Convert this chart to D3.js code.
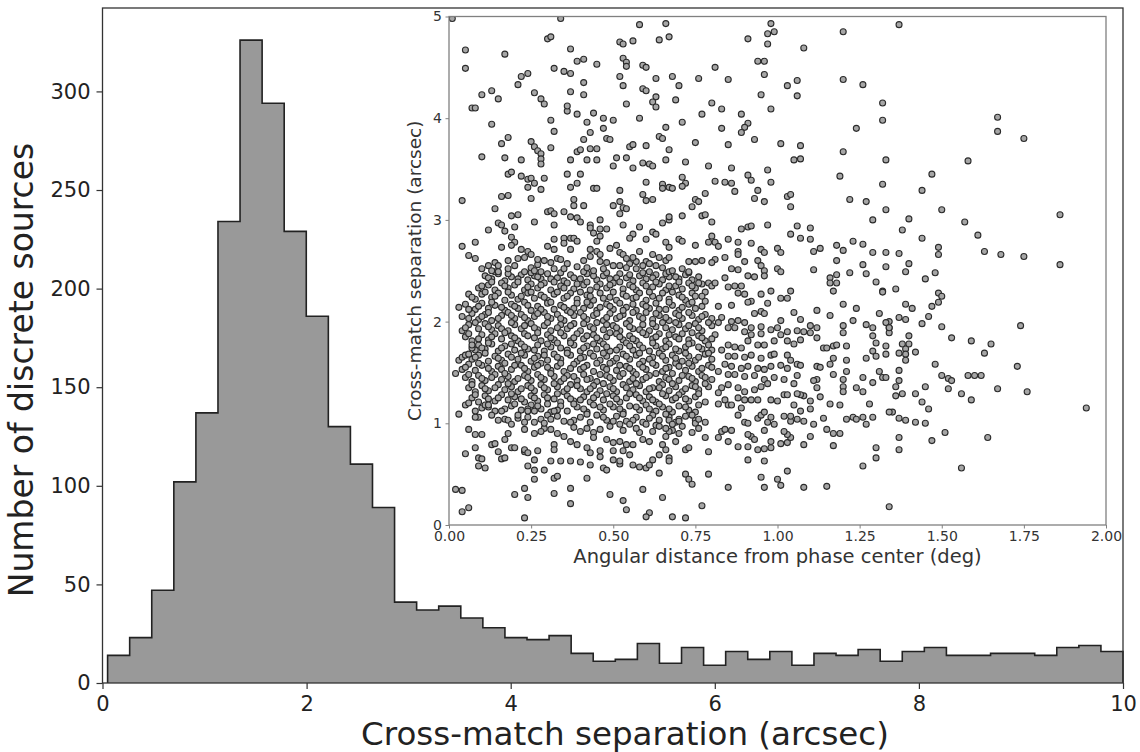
<!DOCTYPE html>
<html>
<head>
<meta charset="utf-8">
<script src="https://cdn.jsdelivr.net/npm/d3@7"></script>
<style>
  body { margin: 0; background: #fff; }
  svg { display: block; font-family: "DejaVu Sans", sans-serif; }
</style>
</head>
<body>
<svg id="chart" width="1140" height="752"></svg>
<script>
// histogram of cross-match separations (arcsec)
const binLo = 0.05;
const binHi = 10;
const binCounts = [14, 23, 47, 102, 137, 234, 326, 294, 229, 186, 130, 111, 89, 41, 37, 39,
  33, 28, 23, 22, 24, 15, 11, 12, 20, 10, 18, 9, 16, 12, 16, 9, 15, 14, 17, 11, 16, 18, 14,
  14, 15, 15, 14, 18, 19, 16];
const mainXTicks = [0, 2, 4, 6, 8, 10];
const mainYTicks = [0, 50, 100, 150, 200, 250, 300];

// inset: [angular distance (deg), separation (arcsec)]
const insetXTicks = [0, 0.25, 0.5, 0.75, 1, 1.25, 1.5, 1.75, 2];
const insetYTicks = [0, 1, 2, 3, 4, 5];

const outerPoints = [
  [0.01,4.98],[0.34,4.98],[0.58,4.92],[0.66,4.93],[0.30,4.78],[0.31,4.80],[0.05,4.67],[0.17,4.63],[0.37,4.68],[0.52,4.75],[0.53,4.73],[0.56,4.76],[0.64,4.77],[0.67,4.80],
  [0.05,4.49],[0.32,4.49],[0.35,4.46],[0.37,4.44],[0.39,4.56],[0.41,4.58],[0.45,4.53],[0.53,4.59],[0.54,4.55],[0.54,4.51],[0.59,4.52],[0.60,4.50],
  [0.22,4.41],[0.24,4.44],[0.21,4.33],[0.41,4.35],[0.52,4.41],[0.53,4.32],[0.63,4.39],
  [0.10,4.23],[0.13,4.27],[0.15,4.19],[0.26,4.25],[0.28,4.19],[0.29,4.14],[0.37,4.26],[0.41,4.23],[0.54,4.14],[0.59,4.29],[0.60,4.27],[0.63,4.21],[0.62,4.16],[0.63,4.11],
  [0.07,4.10],[0.08,4.10],[0.36,4.07],[0.36,4.12],[0.39,4.04],[0.44,4.05],[0.47,4.00],[0.50,3.98],[0.58,4.00],[0.66,3.91],
  [0.13,3.94],[0.31,3.98],[0.32,3.87],[0.42,3.96],[0.43,3.86],[0.47,3.90],[0.48,3.80],[0.49,3.79],[0.41,3.79],
  [0.18,3.81],[0.16,3.75],[0.25,3.77],[0.26,3.72],[0.27,3.68],[0.28,3.65],[0.28,3.60],[0.28,3.55],[0.31,3.71],[0.39,3.67],[0.40,3.69],[0.43,3.70],[0.45,3.70],[0.55,3.72],[0.56,3.74],[0.60,3.73],[0.64,3.82],[0.65,3.80],[0.67,3.69],
  [0.10,3.62],[0.17,3.61],[0.22,3.59],[0.37,3.59],[0.42,3.59],[0.45,3.59],[0.51,3.61],[0.54,3.61],[0.50,3.53],[0.56,3.51],[0.59,3.56],[0.61,3.55],[0.62,3.53],[0.66,3.59],
  [0.18,3.45],[0.19,3.47],[0.22,3.43],[0.24,3.40],[0.25,3.41],[0.26,3.36],[0.29,3.41],[0.24,3.32],[0.28,3.30],[0.36,3.45],[0.40,3.45],[0.37,3.32],[0.39,3.36],[0.44,3.31],[0.45,3.31],[0.52,3.29],[0.60,3.37],[0.65,3.35],[0.65,3.31],[0.67,3.32],
  [0.04,3.19],[0.16,3.23],[0.18,3.24],[0.25,3.21],[0.38,3.20],[0.38,3.14],[0.41,3.14],[0.50,3.14],[0.52,3.18],[0.53,3.12],[0.54,3.11],[0.59,3.25],[0.60,3.19],[0.62,3.20],
  [0.14,3.11],[0.30,3.08],[0.31,3.09],[0.32,3.06],[0.35,3.08],[0.37,3.03],[0.39,3.02],[0.40,2.98],[0.19,3.04],[0.21,3.05],[0.26,2.98],[0.32,2.95],[0.43,2.95],[0.46,3.00],[0.52,3.06],[0.53,2.95],[0.58,2.93],[0.62,2.88],[0.65,2.97],[0.67,3.00],
  [0.12,2.90],[0.15,2.97],[0.16,2.95],[0.17,2.89],[0.20,2.93],[0.19,2.83],[0.20,2.78],[0.19,2.75],[0.32,2.81],[0.35,2.82],[0.37,2.82],[0.38,2.82],[0.39,2.79],[0.35,2.77],[0.37,2.71],[0.43,2.92],[0.44,2.87],[0.46,2.91],[0.48,2.91],[0.46,2.84],[0.45,2.79],[0.49,2.72],[0.51,2.75],[0.52,2.68],[0.56,2.86],[0.55,2.82],[0.60,2.81],[0.63,2.86],[0.66,2.78],[0.67,2.73],
  [0.04,2.74],[0.08,2.78],[0.16,2.73],[0.06,2.65],[0.08,2.62],[0.22,2.71],[0.24,2.69],[0.25,2.66],[0.23,2.63],[0.21,2.62],[0.27,2.61],[0.29,2.60],[0.30,2.74],[0.32,2.71],[0.33,2.62],[0.34,2.61],[0.43,2.71],[0.45,2.69],[0.46,2.66],[0.43,2.64],[0.46,2.59],[0.53,2.66],[0.54,2.62],[0.56,2.63],[0.58,2.69],[0.60,2.59],[0.61,2.57],[0.62,2.66],[0.64,2.63],[0.67,2.63],
  [0.12,2.55],[0.15,2.55],[0.13,2.50],[0.15,2.49],[0.20,2.55],[0.23,2.49],[0.26,2.50],[0.28,2.49],[0.32,2.52],[0.35,2.52],[0.39,2.54],[0.44,2.50],[0.50,2.55],[0.52,2.55],[0.54,2.53],[0.57,2.52],[0.59,2.55],[0.61,2.49],[0.65,2.53],[0.67,2.49],
  [0.98,4.93],[0.97,4.83],[0.99,4.85],[0.97,4.73],[0.91,4.78],[1.20,4.85],[1.08,4.69],[0.94,4.56],[0.96,4.56],[0.81,4.50],[0.96,4.43],[0.68,4.41],[0.70,4.32],[0.76,4.39],[0.85,4.38],[1.03,4.32],[1.06,4.37],[1.06,4.22],[1.20,4.38],[1.26,4.33],[0.95,4.23],[0.69,4.18],[0.80,4.15],[0.83,4.09],[0.77,4.04],[0.89,4.04],[0.98,4.09],[1.32,4.15],[1.32,3.98],
  [0.71,3.96],[0.83,3.90],[0.91,3.95],[0.90,3.91],[0.89,3.86],[1.24,3.90],[0.93,3.79],[0.75,3.76],[0.85,3.74],[1.01,3.75],[1.07,3.73],[1.20,3.67],[1.05,3.59],[1.07,3.60],[1.33,3.59],
  [0.72,3.57],[0.79,3.53],[0.86,3.51],[0.97,3.49],[0.71,3.42],[0.72,3.36],[0.71,3.33],[0.81,3.38],[0.84,3.37],[0.86,3.36],[0.87,3.28],[0.91,3.44],[0.92,3.39],[0.98,3.37],[1.19,3.43],[1.32,3.35],[0.68,3.31],
  [0.78,3.26],[0.94,3.29],[0.93,3.21],[0.96,3.18],[1.03,3.23],[1.04,3.25],[1.04,3.13],[1.22,3.20],[1.27,3.18],[1.33,3.10],
  [0.67,3.03],[0.71,3.04],[0.74,3.13],[0.75,3.20],[0.76,3.18],[0.77,3.04],[0.78,3.05],[0.80,2.98],[1.29,3.00],[0.89,2.91],[0.91,2.93],[0.92,2.94],[0.97,2.95],[1.06,2.94],[1.04,2.86],[1.07,2.82],[1.10,2.81],[1.10,2.92],
  [0.70,2.81],[0.71,2.79],[0.75,2.75],[0.80,2.84],[0.79,2.78],[0.81,2.78],[0.82,2.74],[0.85,2.81],[0.88,2.78],[0.92,2.77],[0.88,2.69],[0.88,2.66],[0.84,2.63],[0.90,2.59],[0.95,2.71],[0.96,2.68],[1.00,2.72],[1.01,2.68],[1.11,2.69],[1.13,2.72],[1.18,2.75],[1.20,2.70],[1.23,2.79],[1.26,2.76],[1.29,2.68],[1.33,2.68],[1.18,2.60],[1.26,2.56],[1.33,2.54],
  [0.73,2.59],[0.75,2.59],[0.77,2.60],[0.81,2.61],[0.80,2.58],[0.94,2.60],[0.95,2.55],[0.96,2.50],[1.00,2.52],[1.01,2.49],[0.86,2.52],[0.88,2.51],[0.68,2.50],[0.71,2.52],[0.73,2.49],[1.11,2.51],[1.22,2.48],[1.27,2.47],
  [1.37,4.92],[1.67,4.01],[1.67,3.87],[1.75,3.80],[1.58,3.58],[1.47,3.45],[1.44,3.29],[1.50,3.10],[1.40,3.01],[1.86,3.05],[1.57,2.98],[1.38,2.90],[1.44,2.82],[1.61,2.85],[1.49,2.73],[1.49,2.66],[1.37,2.67],[1.63,2.69],[1.68,2.66],[1.75,2.64],[1.86,2.56],[1.40,2.57],[1.39,2.49],[1.48,2.48],
  [1.45,2.42],[1.36,2.32],[1.49,2.28],[1.50,2.25],[1.49,2.19],[1.39,2.17],[1.41,2.13],[1.47,2.15],[1.37,2.04],[1.39,2.02],[1.46,2.05],[1.44,1.98],[1.34,2.00],[1.34,1.94],[1.34,1.89],[1.50,1.95],[1.74,1.96],[1.40,1.86],[1.53,1.84],[1.59,1.81],[1.65,1.78],[1.63,1.69],[1.38,1.78],[1.40,1.78],[1.39,1.73],[1.37,1.69],[1.39,1.68],[1.42,1.70],[1.39,1.62],[1.48,1.58],[1.73,1.56],[1.37,1.52],[1.50,1.47],[1.52,1.44],[1.53,1.42],[1.58,1.47],[1.60,1.47],[1.62,1.47],[1.37,1.42],[1.36,1.36],[1.45,1.36],[1.52,1.34],[1.67,1.34],[1.76,1.31],[1.36,1.27],[1.38,1.29],[1.42,1.29],[1.56,1.29],[1.59,1.23],[1.44,1.21],[1.46,1.14],[1.94,1.15],[1.35,1.11],[1.37,1.05],[1.39,1.03],[1.42,1.01],[1.45,1.00],[1.51,0.91],[1.37,0.86],[1.47,0.83],[1.64,0.86],[1.37,0.74],[1.56,0.56],[1.34,0.18],
  [1.30,2.39],[1.32,2.30],[1.32,2.29],[1.16,2.43],[1.18,2.46],[1.16,2.38],[1.18,2.38],[1.17,2.30],[1.20,2.17],[1.24,2.13],[1.31,2.08],[1.12,2.11],[1.16,2.06],[1.23,2.01],[1.20,1.96],[1.20,1.89],[1.27,1.97],[1.29,1.94],[1.29,1.86],[1.33,1.99],[1.34,1.94],[1.21,1.76],[1.17,1.76],[1.18,1.77],[1.14,1.74],[1.15,1.74],[1.29,1.71],[1.30,1.79],[1.33,1.76],[1.33,1.68],[1.21,1.62],[1.27,1.64],[1.30,1.66],[1.17,1.64],[1.12,1.56],[1.13,1.55],[1.16,1.58],[1.17,1.48],[1.21,1.51],[1.31,1.51],[1.32,1.45],[1.33,1.45],[1.29,1.40],[1.26,1.45],[1.20,1.43],[1.20,1.36],[1.20,1.31],[1.24,1.35],[1.26,1.31],[1.12,1.43],[1.12,1.35],[1.11,1.42],[1.28,1.19],[1.34,1.11],[1.16,1.19],[1.19,1.18],[1.10,1.22],[1.13,1.26],[1.08,1.27],[1.07,1.28],[1.06,1.29],
  [1.07,1.12],[1.05,1.18],[1.02,1.28],[1.06,1.04],[1.08,1.02],[1.04,1.02],[1.04,1.07],[1.10,1.14],[1.14,1.05],[1.21,1.04],[1.23,1.06],[1.24,1.04],[1.26,1.06],[1.27,0.99],[1.29,1.06],[1.11,0.99],[1.15,0.94],[1.17,0.90],[1.19,0.90],[1.17,0.78],[1.10,0.87],[1.08,0.79],[1.03,0.81],[1.01,0.80],[1.04,0.86],[1.03,0.89],[1.02,0.92],[0.98,0.82],[0.98,0.76],[0.96,0.93],[0.97,1.01],[0.99,0.99],[0.98,1.06],[1.02,1.07],[0.92,0.87],[0.93,0.84],[0.91,0.89],[0.94,0.74],[0.96,0.75],[0.88,0.77],[0.91,0.77],[0.91,0.64],[0.96,0.63],[0.85,0.82],[0.83,0.92],[0.82,0.86],[0.84,0.94],[0.86,0.93],[0.78,0.86],[0.79,0.72],[1.03,0.53],[0.95,0.47],[1.00,0.45],[1.01,0.39],[0.96,0.37],[1.08,0.37],[1.15,0.38],[0.85,0.37],[0.79,0.50],[0.72,0.50],[0.73,0.45],[0.74,0.40],[0.77,0.19],[0.68,0.08],[0.72,0.07],[1.30,0.76],[1.30,0.66],[1.26,0.58],
  [0.84,2.43],[0.91,2.45],[0.93,2.44],[0.96,2.45],[0.79,2.38],[0.80,2.35],[0.81,2.38],[0.85,2.34],[0.87,2.35],[0.89,2.35],[0.88,2.28],[0.90,2.27],[0.95,2.27],[0.98,2.30],[1.04,2.30],[1.01,2.23],[1.03,2.23],[0.97,2.18],[0.92,2.20],[0.91,2.19],[0.86,2.16],[0.82,2.15],[0.78,2.20],[0.77,2.25],[0.76,2.38],
  [0.93,2.08],[0.95,2.10],[0.96,2.08],[1.05,2.09],[1.07,2.02],[1.01,2.01],[1.00,1.94],[0.98,1.92],[0.95,1.95],[0.92,1.94],[0.90,1.99],[0.88,2.01],[0.86,2.00],[0.83,2.04],[0.82,1.99],[0.85,1.94],[0.87,1.94],[0.90,1.90],[0.92,1.87],[0.95,1.88],[1.01,1.87],[1.03,1.90],[1.06,1.91],[1.08,1.90],[1.10,1.96],[1.12,1.94],[1.10,1.89],[1.12,1.84],[1.07,1.82],[1.05,1.78],[1.03,1.81],[0.99,1.81],[0.96,1.77],[0.94,1.77],[0.91,1.81],[0.89,1.74],[0.87,1.75],[0.85,1.77],[0.83,1.72],[0.85,1.66],[0.87,1.66],[0.90,1.65],[0.92,1.67],[0.95,1.64],[0.98,1.67],[0.99,1.68],[1.03,1.67],[1.04,1.62],[1.06,1.58],[1.07,1.57],[1.03,1.54],[1.01,1.57],[0.98,1.56],[0.96,1.53],[0.94,1.54],[0.91,1.56],[0.89,1.54],[0.86,1.56],[0.84,1.58],[0.82,1.51],[0.85,1.48],[0.87,1.48],[0.90,1.46],[0.93,1.47],[0.96,1.43],[0.99,1.45],[1.02,1.43],[1.05,1.39],[1.06,1.47],[0.97,1.39],[0.95,1.36],[0.93,1.33],[0.90,1.31],[0.88,1.35],[0.85,1.38],[0.83,1.35],[0.82,1.30],[0.84,1.23],[0.88,1.25],[0.90,1.23],[0.92,1.23],[0.94,1.23],[0.98,1.23],[1.00,1.22],[1.03,1.28],[0.89,1.15],[0.88,1.08],[0.90,1.01],[0.91,1.00],[0.94,1.05],[0.95,1.08],[0.96,1.11],[0.85,1.18],[0.82,1.19],[0.86,1.18],
  [0.67,1.03],[0.68,0.99],[0.70,1.02],[0.67,0.92],[0.70,0.90],[0.69,0.82],[0.72,0.74],[0.73,0.76],[0.67,0.66],[0.67,0.63],[0.75,1.00],[0.76,1.04],[0.76,0.95],[0.78,1.01],
  [0.02,1.49],[0.03,1.62],[0.04,1.65],[0.05,1.67],[0.06,1.68],[0.07,1.74],[0.07,1.77],[0.03,1.09],[0.06,0.94],[0.05,0.70],[0.08,0.76],[0.09,0.66],[0.10,0.65],[0.09,0.58],[0.11,0.56],[0.10,0.89],[0.13,0.79],[0.14,0.80],[0.15,0.72],[0.16,0.65],[0.17,0.66],[0.18,0.90],[0.17,0.84],[0.19,0.76],[0.20,0.76],[0.23,0.72],[0.23,0.74],[0.24,0.71],[0.24,0.58],[0.26,0.54],[0.26,0.45],[0.29,0.54],[0.26,0.64],[0.27,0.73],[0.31,0.63],[0.34,0.63],[0.37,0.63],[0.40,0.62],[0.43,0.59],[0.32,0.46],[0.33,0.48],[0.37,0.36],[0.37,0.21],[0.42,0.46],[0.47,0.56],[0.48,0.54],[0.52,0.60],[0.49,0.30],[0.53,0.24],[0.54,0.15],[0.59,0.35],[0.61,0.12],[0.60,0.08],[0.65,0.27],[0.64,0.51],[0.58,0.57],[0.60,0.56],[0.61,0.59],[0.02,0.35],[0.04,0.34],[0.04,0.13],[0.06,0.17],[0.20,0.30],[0.23,0.36],[0.24,0.27],[0.32,0.31],[0.23,0.07],
  [0.50,0.64],[0.52,0.63],[0.46,0.73],[0.50,0.73],[0.53,0.73],[0.55,0.69],[0.56,0.59],[0.46,0.67],[0.43,0.71],[0.42,0.76],[0.39,0.79],[0.37,0.82],[0.35,0.87],[0.33,0.90],[0.31,0.94],[0.29,0.95],[0.28,0.92],[0.26,0.90],[0.32,0.79],[0.32,0.74],[0.62,0.64],[0.64,0.69],[0.66,0.74],[0.65,0.79],[0.23,1.01],[0.23,0.94],[0.37,1.01],[0.40,0.92],[0.42,0.95],[0.44,0.86],[0.46,0.94],[0.48,0.84],[0.50,0.81],[0.52,0.82],[0.54,0.79],[0.56,0.79],[0.59,0.84],[0.61,0.82],[0.57,0.95],[0.55,0.99],[0.52,0.99],[0.60,0.99],[0.62,0.92],[0.64,0.97],[0.66,0.95],[0.66,0.87],[0.08,0.89],[0.09,1.06],[0.08,1.06],[0.11,1.18],[0.12,1.18],[0.05,1.18],[0.06,1.20],[0.16,1.12],[0.15,1.03],[0.17,1.04],[0.18,1.03],[0.19,0.99],[0.21,1.08],[0.24,1.12],[0.26,1.12],[0.28,1.04],[0.29,1.00],[0.31,1.04],[0.32,1.12]
];

// the crowded core of the inset, read band by band
const corePoints = [
  [0.11,2.45],[0.13,2.42],[0.15,2.47],[0.17,2.40],[0.19,2.44],[0.22,2.46],[0.24,2.41],[0.26,2.45],[0.28,2.42],[0.30,2.47],[0.33,2.43],[0.35,2.40],[0.37,2.46],[0.40,2.42],[0.42,2.47],[0.45,2.41],[0.47,2.45],[0.49,2.42],[0.52,2.47],[0.54,2.43],[0.56,2.40],[0.58,2.45],[0.60,2.42],[0.63,2.46],[0.65,2.41],[0.67,2.44],[0.70,2.42],[0.72,2.46],[0.74,2.41],
  [0.09,2.33],[0.12,2.36],[0.14,2.31],[0.16,2.38],[0.18,2.33],[0.20,2.36],[0.23,2.31],[0.25,2.37],[0.27,2.33],[0.29,2.38],[0.31,2.31],[0.34,2.35],[0.36,2.38],[0.38,2.32],[0.41,2.36],[0.43,2.31],[0.46,2.37],[0.48,2.33],[0.50,2.38],[0.53,2.32],[0.55,2.36],[0.57,2.31],[0.59,2.38],[0.62,2.34],[0.64,2.37],[0.66,2.31],[0.69,2.35],[0.71,2.32],[0.73,2.38],[0.75,2.33],
  [0.06,2.27],[0.08,2.22],[0.10,2.27],[0.13,2.24],[0.15,2.28],[0.17,2.21],[0.19,2.26],[0.21,2.22],[0.24,2.28],[0.26,2.23],[0.28,2.26],[0.30,2.21],[0.32,2.27],[0.35,2.23],[0.37,2.28],[0.39,2.22],[0.42,2.26],[0.44,2.21],[0.46,2.28],[0.49,2.24],[0.51,2.21],[0.53,2.27],[0.56,2.23],[0.58,2.28],[0.60,2.21],[0.62,2.25],[0.65,2.28],[0.67,2.22],[0.70,2.26],[0.72,2.21],[0.74,2.28],
  [0.03,2.14],[0.05,2.17],[0.08,2.12],[0.10,2.18],[0.12,2.13],[0.14,2.16],[0.17,2.11],[0.19,2.17],[0.21,2.13],[0.23,2.19],[0.25,2.11],[0.27,2.15],[0.30,2.18],[0.32,2.12],[0.34,2.16],[0.36,2.11],[0.39,2.18],[0.41,2.13],[0.43,2.16],[0.45,2.11],[0.48,2.17],[0.50,2.12],[0.52,2.18],[0.54,2.14],[0.57,2.11],[0.59,2.17],[0.61,2.13],[0.63,2.18],[0.66,2.12],[0.68,2.16],[0.70,2.11],[0.73,2.17],[0.75,2.13],
  [0.04,2.05],[0.07,2.08],[0.09,2.02],[0.11,2.07],[0.13,2.01],[0.16,2.06],[0.18,2.09],[0.20,2.03],[0.22,2.07],[0.24,2.01],[0.26,2.05],[0.29,2.09],[0.31,2.03],[0.33,2.07],[0.35,2.01],[0.38,2.06],[0.40,2.09],[0.42,2.02],[0.44,2.06],[0.47,2.01],[0.49,2.08],[0.51,2.03],[0.53,2.07],[0.55,2.01],[0.58,2.05],[0.60,2.09],[0.62,2.02],[0.64,2.06],[0.67,2.01],[0.69,2.08],[0.71,2.03],[0.74,2.06],[0.76,2.02],[0.78,2.07],
  [0.04,1.91],[0.06,1.97],[0.09,1.93],[0.11,1.98],[0.13,1.92],[0.15,1.96],[0.18,1.91],[0.20,1.97],[0.22,1.93],[0.25,1.98],[0.27,1.92],[0.29,1.96],[0.31,1.91],[0.34,1.97],[0.36,1.93],[0.38,1.98],[0.40,1.91],[0.43,1.95],[0.45,1.99],[0.47,1.92],[0.50,1.96],[0.52,1.91],[0.54,1.98],[0.56,1.93],[0.59,1.97],[0.61,1.91],[0.63,1.95],[0.65,1.99],[0.68,1.92],[0.70,1.97],[0.72,1.93],[0.75,1.98],[0.77,1.91],[0.80,1.96],
  [0.05,1.85],[0.07,1.81],[0.10,1.87],[0.12,1.82],[0.14,1.88],[0.16,1.83],[0.19,1.86],[0.21,1.81],[0.23,1.88],[0.26,1.84],[0.28,1.81],[0.30,1.87],[0.32,1.82],[0.35,1.86],[0.37,1.81],[0.39,1.88],[0.41,1.83],[0.44,1.87],[0.46,1.81],[0.48,1.85],[0.51,1.88],[0.53,1.82],[0.55,1.86],[0.57,1.81],[0.60,1.87],[0.62,1.83],[0.64,1.88],[0.66,1.81],[0.69,1.85],[0.71,1.88],[0.73,1.82],[0.76,1.86],[0.78,1.81],[0.81,1.87],
  [0.08,1.72],[0.09,1.77],[0.11,1.73],[0.13,1.78],[0.15,1.71],[0.17,1.76],[0.20,1.72],[0.22,1.78],[0.24,1.73],[0.27,1.77],[0.29,1.71],[0.31,1.75],[0.33,1.79],[0.36,1.72],[0.38,1.77],[0.40,1.71],[0.42,1.76],[0.45,1.73],[0.47,1.78],[0.49,1.71],[0.52,1.75],[0.54,1.79],[0.56,1.72],[0.58,1.77],[0.61,1.71],[0.63,1.76],[0.65,1.73],[0.67,1.78],[0.70,1.71],[0.72,1.75],[0.74,1.79],[0.77,1.73],[0.79,1.77],
  [0.07,1.63],[0.09,1.67],[0.12,1.61],[0.14,1.66],[0.16,1.62],[0.18,1.68],[0.21,1.63],[0.23,1.67],[0.25,1.61],[0.27,1.66],[0.30,1.62],[0.32,1.68],[0.34,1.63],[0.37,1.67],[0.39,1.61],[0.41,1.65],[0.43,1.69],[0.46,1.62],[0.48,1.66],[0.50,1.61],[0.53,1.68],[0.55,1.63],[0.57,1.67],[0.59,1.61],[0.62,1.65],[0.64,1.69],[0.66,1.62],[0.68,1.67],[0.71,1.61],[0.73,1.66],[0.75,1.62],[0.78,1.68],[0.80,1.63],
  [0.04,1.53],[0.06,1.58],[0.08,1.52],[0.10,1.57],[0.13,1.51],[0.15,1.56],[0.17,1.59],[0.19,1.53],[0.22,1.57],[0.24,1.51],[0.26,1.55],[0.28,1.59],[0.31,1.52],[0.33,1.56],[0.35,1.51],[0.38,1.58],[0.40,1.53],[0.42,1.57],[0.44,1.51],[0.47,1.55],[0.49,1.59],[0.51,1.52],[0.54,1.56],[0.56,1.51],[0.58,1.58],[0.60,1.53],[0.63,1.57],[0.65,1.51],[0.67,1.55],[0.69,1.59],[0.72,1.52],[0.74,1.56],[0.76,1.51],[0.79,1.57],
  [0.05,1.45],[0.07,1.41],[0.09,1.47],[0.11,1.42],[0.14,1.48],[0.16,1.43],[0.18,1.46],[0.20,1.41],[0.23,1.47],[0.25,1.42],[0.27,1.48],[0.29,1.43],[0.32,1.46],[0.34,1.41],[0.36,1.47],[0.39,1.42],[0.41,1.48],[0.43,1.44],[0.45,1.41],[0.48,1.47],[0.50,1.42],[0.52,1.46],[0.55,1.41],[0.57,1.48],[0.59,1.43],[0.61,1.47],[0.64,1.41],[0.66,1.45],[0.68,1.49],[0.70,1.42],[0.73,1.46],[0.75,1.41],[0.77,1.47],[0.80,1.43],
  [0.06,1.35],[0.08,1.31],[0.10,1.37],[0.12,1.32],[0.15,1.38],[0.17,1.33],[0.19,1.36],[0.21,1.31],[0.24,1.37],[0.26,1.32],[0.28,1.38],[0.30,1.33],[0.33,1.36],[0.35,1.31],[0.37,1.38],[0.40,1.34],[0.42,1.31],[0.44,1.37],[0.46,1.32],[0.49,1.36],[0.51,1.31],[0.53,1.38],[0.56,1.33],[0.58,1.37],[0.60,1.31],[0.62,1.35],[0.65,1.38],[0.67,1.32],[0.69,1.36],[0.71,1.31],[0.74,1.37],[0.76,1.33],[0.79,1.36],
  [0.07,1.25],[0.09,1.21],[0.11,1.27],[0.14,1.22],[0.16,1.28],[0.18,1.23],[0.20,1.26],[0.23,1.21],[0.25,1.27],[0.27,1.22],[0.29,1.28],[0.32,1.24],[0.34,1.21],[0.36,1.27],[0.38,1.22],[0.41,1.26],[0.43,1.21],[0.45,1.28],[0.47,1.23],[0.50,1.27],[0.52,1.21],[0.54,1.25],[0.57,1.28],[0.59,1.22],[0.61,1.26],[0.63,1.21],[0.66,1.27],[0.68,1.23],[0.70,1.28],[0.73,1.22],[0.75,1.26],[0.78,1.21],
  [0.10,1.15],[0.14,1.12],[0.19,1.17],[0.22,1.13],[0.25,1.18],[0.28,1.14],[0.31,1.11],[0.34,1.17],[0.36,1.12],[0.39,1.16],[0.42,1.11],[0.44,1.18],[0.47,1.13],[0.50,1.16],[0.53,1.11],[0.55,1.17],[0.58,1.13],[0.60,1.18],[0.63,1.12],[0.65,1.16],[0.68,1.11],[0.70,1.17],[0.73,1.13],[0.76,1.18],
  [0.21,1.05],[0.26,1.01],[0.33,1.07],[0.35,1.02],[0.40,1.06],[0.43,1.01],[0.45,1.08],[0.48,1.03],[0.51,1.07],[0.54,1.02],[0.57,1.06],[0.59,1.01],[0.62,1.08],[0.64,1.03],[0.67,1.06],[0.69,1.01],[0.72,1.07],[0.75,1.03],
  [0.38,0.96],[0.44,0.91],[0.49,0.97],[0.53,0.93],[0.58,0.91],[0.63,0.98],[0.68,0.93],[0.71,0.97],[0.74,0.91]
];

// second pass over the core, filling the gaps between the first bands
const coreFill = [
  [0.12,2.43],[0.14,2.49],[0.18,2.47],[0.21,2.42],[0.25,2.48],[0.27,2.44],[0.31,2.42],[0.34,2.48],[0.38,2.43],[0.41,2.49],[0.44,2.45],[0.48,2.48],[0.51,2.43],[0.55,2.46],[0.59,2.48],[0.62,2.43],[0.66,2.47],[0.69,2.44],[0.73,2.48],[0.76,2.44],
  [0.10,2.35],[0.13,2.39],[0.17,2.35],[0.21,2.39],[0.24,2.34],[0.28,2.36],[0.32,2.39],[0.35,2.33],[0.39,2.37],[0.42,2.39],[0.45,2.34],[0.49,2.36],[0.52,2.39],[0.56,2.34],[0.60,2.35],[0.63,2.39],[0.67,2.35],[0.70,2.39],[0.74,2.35],[0.77,2.37],
  [0.07,2.24],[0.11,2.29],[0.14,2.25],[0.18,2.29],[0.22,2.25],[0.25,2.29],[0.29,2.24],[0.33,2.29],[0.36,2.25],[0.40,2.29],[0.43,2.25],[0.47,2.23],[0.50,2.29],[0.54,2.25],[0.57,2.24],[0.61,2.29],[0.64,2.23],[0.68,2.29],[0.71,2.24],[0.75,2.25],[0.78,2.29],
  [0.06,2.12],[0.09,2.15],[0.13,2.19],[0.16,2.14],[0.20,2.15],[0.24,2.16],[0.28,2.12],[0.31,2.19],[0.35,2.14],[0.38,2.13],[0.42,2.19],[0.46,2.14],[0.49,2.15],[0.53,2.11],[0.56,2.17],[0.60,2.15],[0.64,2.12],[0.67,2.19],[0.71,2.14],[0.74,2.19],[0.77,2.15],
  [0.06,2.03],[0.10,2.05],[0.12,2.09],[0.15,2.03],[0.19,2.06],[0.23,2.04],[0.27,2.08],[0.30,2.05],[0.34,2.03],[0.37,2.09],[0.41,2.05],[0.45,2.08],[0.48,2.04],[0.52,2.05],[0.56,2.09],[0.59,2.03],[0.63,2.08],[0.66,2.04],[0.70,2.06],[0.73,2.09],[0.77,2.05],[0.80,2.03],
  [0.05,1.94],[0.08,1.99],[0.12,1.95],[0.16,1.93],[0.19,1.99],[0.23,1.96],[0.26,1.94],[0.30,1.99],[0.33,1.94],[0.37,1.96],[0.41,1.98],[0.44,1.93],[0.48,1.97],[0.51,1.94],[0.55,1.95],[0.58,1.92],[0.62,1.98],[0.66,1.94],[0.69,1.99],[0.73,1.96],[0.76,1.94],[0.79,1.99],
  [0.06,1.88],[0.09,1.83],[0.13,1.85],[0.17,1.89],[0.20,1.84],[0.24,1.86],[0.27,1.89],[0.31,1.84],[0.34,1.89],[0.38,1.84],[0.42,1.86],[0.45,1.84],[0.49,1.89],[0.52,1.85],[0.56,1.83],[0.59,1.89],[0.63,1.85],[0.67,1.87],[0.70,1.83],[0.74,1.89],[0.77,1.84],[0.80,1.83],
  [0.10,1.74],[0.12,1.79],[0.16,1.74],[0.19,1.78],[0.23,1.75],[0.26,1.72],[0.30,1.78],[0.34,1.74],[0.37,1.79],[0.41,1.74],[0.44,1.78],[0.48,1.75],[0.51,1.72],[0.55,1.76],[0.59,1.74],[0.62,1.79],[0.66,1.75],[0.69,1.73],[0.73,1.78],[0.76,1.75],[0.80,1.72],
  [0.08,1.65],[0.11,1.69],[0.15,1.64],[0.19,1.65],[0.22,1.69],[0.26,1.64],[0.29,1.67],[0.33,1.65],[0.36,1.69],[0.40,1.64],[0.44,1.66],[0.47,1.69],[0.51,1.64],[0.54,1.66],[0.58,1.69],[0.61,1.63],[0.65,1.66],[0.69,1.64],[0.72,1.69],[0.76,1.65],[0.79,1.69],
  [0.05,1.55],[0.09,1.59],[0.12,1.54],[0.16,1.53],[0.20,1.57],[0.23,1.54],[0.27,1.57],[0.30,1.55],[0.34,1.59],[0.37,1.54],[0.41,1.55],[0.45,1.59],[0.48,1.53],[0.52,1.57],[0.55,1.54],[0.59,1.55],[0.62,1.59],[0.66,1.54],[0.70,1.56],[0.73,1.59],[0.77,1.54],[0.80,1.55],
  [0.06,1.48],[0.10,1.44],[0.13,1.45],[0.17,1.49],[0.21,1.44],[0.24,1.45],[0.28,1.45],[0.31,1.49],[0.35,1.44],[0.38,1.46],[0.42,1.43],[0.46,1.48],[0.49,1.45],[0.53,1.49],[0.56,1.44],[0.60,1.45],[0.63,1.49],[0.67,1.43],[0.71,1.47],[0.74,1.44],[0.78,1.45],
  [0.07,1.38],[0.11,1.34],[0.14,1.35],[0.18,1.39],[0.22,1.34],[0.25,1.35],[0.29,1.35],[0.32,1.39],[0.36,1.34],[0.39,1.37],[0.43,1.34],[0.47,1.39],[0.50,1.34],[0.54,1.35],[0.57,1.39],[0.61,1.34],[0.64,1.35],[0.68,1.39],[0.72,1.34],[0.75,1.36],[0.78,1.39],
  [0.08,1.28],[0.12,1.24],[0.15,1.25],[0.19,1.29],[0.22,1.24],[0.26,1.25],[0.30,1.25],[0.33,1.29],[0.37,1.24],[0.40,1.23],[0.44,1.25],[0.48,1.29],[0.51,1.24],[0.55,1.29],[0.58,1.25],[0.62,1.23],[0.65,1.29],[0.69,1.25],[0.72,1.24],[0.76,1.29],
  [0.08,1.12],[0.12,1.16],[0.17,1.14],[0.20,1.19],[0.24,1.14],[0.27,1.17],[0.30,1.19],[0.33,1.13],[0.38,1.19],[0.41,1.14],[0.46,1.16],[0.49,1.19],[0.52,1.14],[0.57,1.16],[0.61,1.14],[0.64,1.19],[0.67,1.14],[0.72,1.16],[0.75,1.11],
  [0.13,1.08],[0.24,1.06],[0.30,1.08],[0.38,1.03],[0.42,1.09],[0.47,1.06],[0.50,1.02],[0.53,1.09],[0.56,1.03],[0.61,1.05],[0.66,1.09],[0.70,1.04],[0.74,1.08],
  [0.14,2.58],[0.18,2.60],[0.27,2.56],[0.31,2.58],[0.36,2.57],[0.41,2.60],[0.48,2.58],[0.55,2.57],[0.63,2.55],[0.66,2.60],[0.10,2.52],[0.18,2.52],[0.42,2.53],[0.47,2.52],[0.25,2.53],[0.57,2.59]
];

const svg = d3.select("#chart");
const ink = "#222";

// ---- main histogram axes ----
const x = d3.scaleLinear().domain([0, 10]).range([102.5, 1123]);
const y = d3.scaleLinear().domain([0, 342.3]).range([683, 8]);

const edges = d3.range(binCounts.length + 1)
  .map(i => binLo + i * (binHi - binLo) / binCounts.length);
const steps = binCounts.map((c, i) => [edges[i], c]);
steps.push([binHi, binCounts[binCounts.length - 1]]);

svg.append("path")
  .datum(steps)
  .attr("fill", "#999999")
  .attr("d", d3.area()
    .x(d => x(d[0]))
    .y0(y(0))
    .y1(d => y(d[1]))
    .curve(d3.curveStepAfter));

svg.append("path")
  .datum([[binLo, 0], ...steps, [binHi, 0]])
  .attr("fill", "none")
  .attr("stroke", ink)
  .attr("stroke-width", 1.6)
  .attr("d", d3.line()
    .x(d => x(d[0]))
    .y(d => y(d[1]))
    .curve(d3.curveStepAfter));

svg.append("rect")
  .attr("x", x(0)).attr("y", y(342.3))
  .attr("width", x(10) - x(0)).attr("height", y(0) - y(342.3))
  .attr("fill", "none").attr("stroke", "#333").attr("stroke-width", 1.3);

const gx = svg.append("g")
  .attr("transform", `translate(0,${y(0)})`)
  .call(d3.axisBottom(x).tickValues(mainXTicks).tickFormat(d3.format("d"))
    .tickSize(6).tickPadding(7));
const gy = svg.append("g")
  .attr("transform", `translate(${x(0)},0)`)
  .call(d3.axisLeft(y).tickValues(mainYTicks).tickFormat(d3.format("d"))
    .tickSize(6).tickPadding(6));
[gx, gy].forEach(g => {
  g.select(".domain").remove();
  g.selectAll("line").attr("stroke", "#333").attr("stroke-width", 1.2);
  g.selectAll("text").attr("fill", ink).style("font-size", "21px")
    .style("font-family", "DejaVu Sans");
});

svg.append("text")
  .attr("x", 625).attr("y", 745)
  .attr("text-anchor", "middle").attr("fill", ink)
  .style("font-size", "32.5px")
  .text("Cross-match separation (arcsec)");

svg.append("text")
  .attr("transform", "translate(33,370) rotate(-90)")
  .attr("text-anchor", "middle").attr("fill", ink)
  .style("font-size", "33px")
  .text("Number of discrete sources");

// ---- inset scatter ----
const ix = d3.scaleLinear().domain([0, 2]).range([449, 1106]);
const iy = d3.scaleLinear().domain([0, 5]).range([525, 16.5]);

svg.append("rect")
  .attr("x", ix(0)).attr("y", iy(5))
  .attr("width", ix(2) - ix(0)).attr("height", iy(0) - iy(5))
  .attr("fill", "#fff");

svg.append("clipPath").attr("id", "insetClip")
  .append("rect")
  .attr("x", ix(0)).attr("y", iy(5))
  .attr("width", ix(2) - ix(0)).attr("height", iy(0) - iy(5));

svg.append("g")
  .attr("clip-path", "url(#insetClip)")
  .selectAll("circle")
  .data(corePoints.concat(coreFill, outerPoints))
  .join("circle")
  .attr("cx", d => ix(d[0]))
  .attr("cy", d => iy(d[1]))
  .attr("r", 3)
  .attr("fill", "#a6a6a6")
  .attr("stroke", "#2b2b2b")
  .attr("stroke-width", 1.1);

svg.append("rect")
  .attr("x", ix(0)).attr("y", iy(5))
  .attr("width", ix(2) - ix(0)).attr("height", iy(0) - iy(5))
  .attr("fill", "none").attr("stroke", "#808080").attr("stroke-width", 1.3);

const igx = svg.append("g")
  .attr("transform", `translate(0,${iy(0)})`)
  .call(d3.axisBottom(ix).tickValues(insetXTicks).tickFormat(d3.format(".2f"))
    .tickSize(3.5).tickPadding(3));
const igy = svg.append("g")
  .attr("transform", `translate(${ix(0)},0)`)
  .call(d3.axisLeft(iy).tickValues(insetYTicks).tickFormat(d3.format("d"))
    .tickSize(3.5).tickPadding(3.5));
[igx, igy].forEach(g => {
  g.select(".domain").remove();
  g.selectAll("line").attr("stroke", "#808080").attr("stroke-width", 1);
  g.selectAll("text").attr("fill", "#333").style("font-size", "14px")
    .style("font-family", "DejaVu Sans");
});

svg.append("text")
  .attr("x", (ix(0) + ix(2)) / 2).attr("y", 563)
  .attr("text-anchor", "middle").attr("fill", "#333")
  .style("font-size", "19.5px")
  .text("Angular distance from phase center (deg)");

svg.append("text")
  .attr("transform", `translate(421,${(iy(0) + iy(5)) / 2}) rotate(-90)`)
  .attr("text-anchor", "middle").attr("fill", "#333")
  .style("font-size", "18.5px")
  .text("Cross-match separation (arcsec)");
</script>
</body>
</html>
